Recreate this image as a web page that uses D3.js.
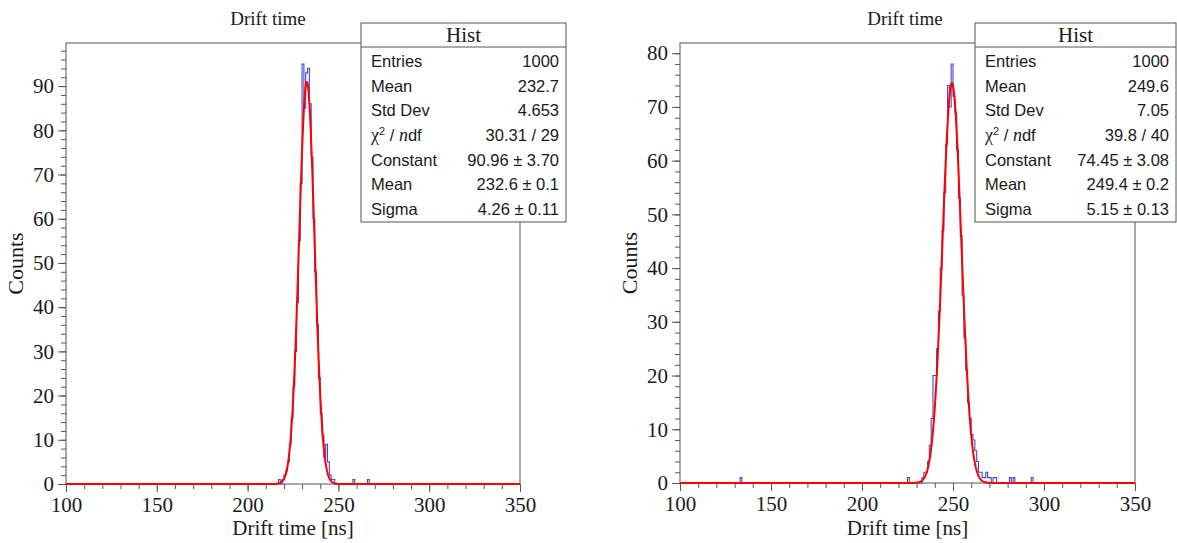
<!DOCTYPE html>
<html>
<head>
<meta charset="utf-8">
<script src="https://cdn.jsdelivr.net/npm/d3@7"></script>
<style>
  html, body { margin: 0; padding: 0; background: #fff; }
  svg { display: block; }
</style>
</head>
<body>
<svg id="chart" width="1177" height="543"></svg>
<script>
// Drift-time histograms, 1 ns bins over 100–350 ns, each with a Gaussian fit.
const rangeLow = 100, rangeHigh = 350, binWidth = 1;

// Left chamber: lower edges (ns) of the non-empty bins and their counts
const leftBins = [217, 219, 220, 221, 222, 223, 224, 225, 226, 227, 228, 229, 230, 231, 232, 233,
                  234, 235, 236, 237, 238, 239, 240, 241, 242, 243, 244, 245, 246, 247, 258, 266];
const leftCounts = [1, 1, 2, 3, 5, 9, 15, 22, 30, 41, 55, 68, 95, 85, 93, 94,
                    86, 74, 60, 48, 36, 24, 16, 11, 6, 9, 5, 2, 1, 1, 1, 1];
// Fit parameters: constant, mean, sigma
const leftFit = [90.96, 232.6, 4.26];

// Right chamber
const rightBins = [133, 225, 233, 234, 235, 236, 237, 238, 239, 240, 241, 242, 243, 244, 245, 246,
                   247, 248, 249, 250, 251, 252, 253, 254, 255, 256, 257, 258, 259, 260, 261, 262,
                   263, 264, 265, 266, 267, 268, 269, 270, 272, 273, 281, 283, 293];
const rightCounts = [1, 1, 1, 2, 2, 4, 7, 12, 20, 20, 25, 32, 40, 47, 54, 63,
                     74, 70, 78, 72, 69, 62, 53, 46, 35, 27, 21, 15, 12, 9, 8, 6,
                     4, 2, 2, 1, 1, 2, 1, 1, 1, 1, 1, 1, 1];
const rightFit = [74.45, 249.4, 5.15];

const xTicks = [100, 150, 200, 250, 300, 350];
const leftYTicks = [0, 10, 20, 30, 40, 50, 60, 70, 80, 90];
const rightYTicks = [0, 10, 20, 30, 40, 50, 60, 70, 80];

const statNames = ["Entries", "Mean", "Std Dev", "chi2", "Constant", "Mean", "Sigma"];
const leftStats = ["1000", "232.7", "4.653", "30.31 / 29", "90.96 \u00b1 3.70", "232.6 \u00b1 0.1", "4.26 \u00b1 0.11"];
const rightStats = ["1000", "249.6", "7.05", "39.8 / 40", "74.45 \u00b1 3.08", "249.4 \u00b1 0.2", "5.15 \u00b1 0.13"];

const SERIF = "'Liberation Serif', 'Times New Roman', serif";
const SANS = "'Liberation Sans', Arial, Helvetica, sans-serif";
const INK = "#1a1a1a";
const FRAME = "#555";

const svg = d3.select("#chart");

function fullHistogram(bins, counts) {
  const n = Math.round((rangeHigh - rangeLow) / binWidth);
  const h = new Array(n).fill(0);
  bins.forEach((b, i) => { h[Math.round((b - rangeLow) / binWidth)] = counts[i]; });
  return h;
}

function drawPanel(p) {
  const g = svg.append("g");
  const hist = fullHistogram(p.bins, p.counts);
  const yMax = d3.max(hist) * 1.05;

  const x = d3.scaleLinear().domain([rangeLow, rangeHigh]).range([p.left, p.right]);
  const y = d3.scaleLinear().domain([0, yMax]).range([p.bottom, p.top]);

  // axes: major and minor ticks pointing outward
  const minorX = d3.range(rangeLow, rangeHigh + 0.1, 10);
  const minorY = d3.range(0, yMax, 2);

  const xMinor = g.append("g").attr("transform", `translate(0,${p.bottom})`)
    .call(d3.axisBottom(x).tickValues(minorX).tickSize(5).tickFormat(""));
  const xMajor = g.append("g").attr("transform", `translate(0,${p.bottom})`)
    .call(d3.axisBottom(x).tickValues(xTicks).tickSize(8).tickPadding(5).tickFormat(d3.format("d")));
  const yMinor = g.append("g").attr("transform", `translate(${p.left},0)`)
    .call(d3.axisLeft(y).tickValues(minorY).tickSize(5).tickFormat(""));
  const yMajor = g.append("g").attr("transform", `translate(${p.left},0)`)
    .call(d3.axisLeft(y).tickValues(p.yTicks).tickSize(8).tickPadding(4).tickFormat(d3.format("d")));

  [xMinor, xMajor, yMinor, yMajor].forEach(a => {
    a.select(".domain").remove();
    a.selectAll(".tick line").attr("stroke", FRAME).attr("stroke-width", 1);
    a.selectAll(".tick text").attr("fill", INK).style("font-family", SERIF).style("font-size", "21px");
  });

  // frame
  g.append("rect")
    .attr("x", p.left).attr("y", p.top)
    .attr("width", p.right - p.left).attr("height", p.bottom - p.top)
    .attr("fill", "none").attr("stroke", FRAME).attr("stroke-width", 1);

  // histogram outline
  const steps = hist.map((c, i) => [rangeLow + i * binWidth, c]);
  steps.push([rangeHigh, hist[hist.length - 1]]);
  g.append("path")
    .datum(steps)
    .attr("d", d3.line().x(d => x(d[0])).y(d => y(d[1])).curve(d3.curveStepAfter))
    .attr("fill", "none").attr("stroke", "#4646cc").attr("stroke-width", 1.1);

  // Gaussian fit curve
  const [c, mu, sigma] = p.fit;
  const samples = d3.range(0, 1001).map(i => {
    const t = rangeLow + (rangeHigh - rangeLow) * i / 1000;
    return [t, c * Math.exp(-0.5 * ((t - mu) / sigma) ** 2)];
  });
  g.append("path")
    .datum(samples)
    .attr("d", d3.line().x(d => x(d[0])).y(d => y(d[1])))
    .attr("fill", "none").attr("stroke", "#ff0000").attr("stroke-width", 2)
    .attr("stroke-linejoin", "round");

  // titles
  g.append("text").text("Drift time")
    .attr("x", p.titleX).attr("y", 25).attr("text-anchor", "middle")
    .style("font-family", SERIF).style("font-size", "19px").attr("fill", INK);
  g.append("text").text("Drift time [ns]")
    .attr("x", (p.left + p.right) / 2).attr("y", 535).attr("text-anchor", "middle")
    .style("font-family", SERIF).style("font-size", "21px").attr("fill", INK);
  g.append("text").text("Counts")
    .attr("transform", `translate(${p.left - 43},${(p.top + p.bottom) / 2}) rotate(-90)`)
    .attr("text-anchor", "middle")
    .style("font-family", SERIF).style("font-size", "22px").attr("fill", INK);

  // statistics box
  const bx0 = p.box[0], bx1 = p.box[1], by0 = 23, byHead = 47, by1 = 222;
  const sb = g.append("g");
  sb.append("rect").attr("x", bx0).attr("y", by0).attr("width", bx1 - bx0).attr("height", by1 - by0)
    .attr("fill", "#fff").attr("stroke", FRAME).attr("stroke-width", 1);
  sb.append("line").attr("x1", bx0).attr("x2", bx1).attr("y1", byHead).attr("y2", byHead)
    .attr("stroke", FRAME).attr("stroke-width", 1);
  sb.append("text").text("Hist")
    .attr("x", (bx0 + bx1) / 2).attr("y", 42).attr("text-anchor", "middle")
    .style("font-family", SERIF).style("font-size", "21px").attr("fill", INK);

  const rowY = d3.scaleLinear().domain([0, 6]).range([67, 215]);
  statNames.forEach((name, i) => {
    const t = sb.append("text").attr("x", bx0 + 10).attr("y", rowY(i))
      .style("font-family", SANS).style("font-size", "16.5px").attr("fill", INK);
    if (name === "chi2") {
      t.append("tspan").text("\u03c7").style("font-family", SERIF).style("font-size", "18px");
      t.append("tspan").text("2").attr("dy", -6).style("font-size", "11px");
      t.append("tspan").text(" / ").attr("dy", 6);
      t.append("tspan").text("n").style("font-family", SERIF).style("font-style", "italic").style("font-size", "18px");
      t.append("tspan").text("df");
    } else {
      t.text(name);
    }
    sb.append("text").text(p.stats[i])
      .attr("x", bx1 - 7).attr("y", rowY(i)).attr("text-anchor", "end")
      .style("font-family", SANS).style("font-size", "16.5px").attr("fill", INK);
  });
}

drawPanel({ bins: leftBins, counts: leftCounts, fit: leftFit, yTicks: leftYTicks, stats: leftStats,
            left: 66, right: 520, top: 43, bottom: 484, titleX: 268, box: [361, 566] });
drawPanel({ bins: rightBins, counts: rightCounts, fit: rightFit, yTicks: rightYTicks, stats: rightStats,
            left: 680, right: 1135, top: 43, bottom: 483, titleX: 905, box: [975, 1176] });
</script>
</body>
</html>
